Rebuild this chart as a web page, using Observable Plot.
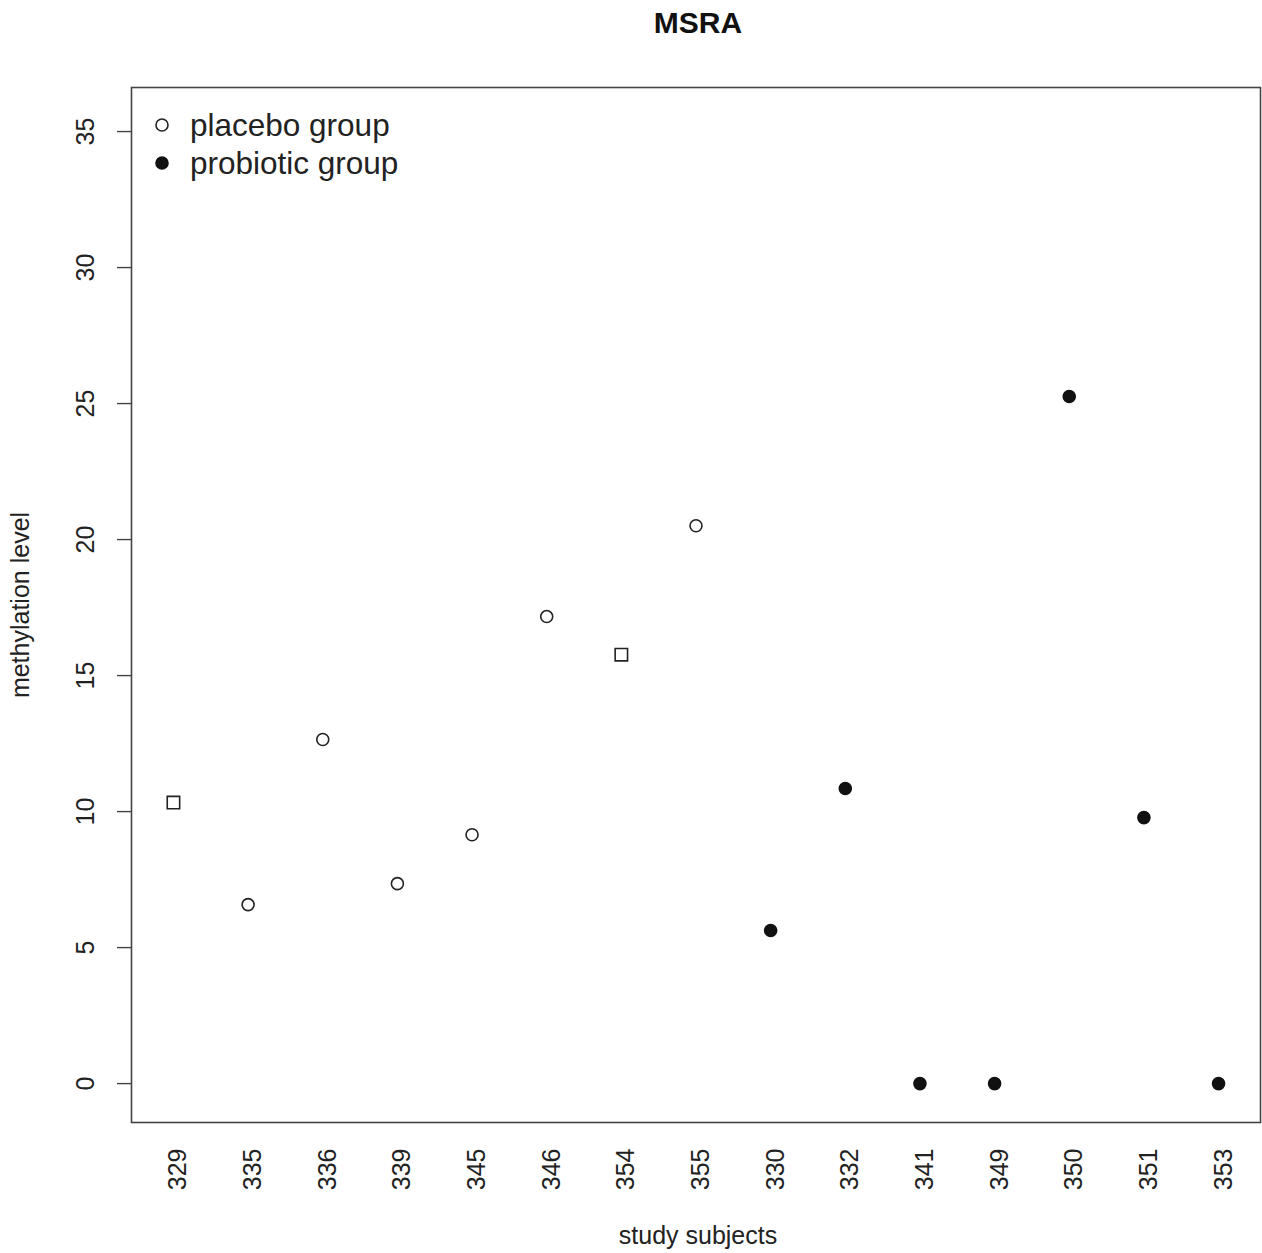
<!DOCTYPE html>
<html><head><meta charset="utf-8">
<script src="https://cdn.jsdelivr.net/npm/d3@7"></script>
<script src="https://cdn.jsdelivr.net/npm/@observablehq/plot@0.6"></script>
<style>
body{margin:0;background:#fff;font-family:"Liberation Sans",Arial,sans-serif;}
#wrap{position:relative;width:1262px;height:1253px;}
#legend{position:absolute;left:150px;top:106px;font-size:31.5px;color:#222;}
#legend .row{display:flex;align-items:center;height:38px;}
#legend svg{width:24px;height:24px;margin-right:16px;}
</style></head><body>
<div id="wrap"><div id="chart"></div><div id="legend"></div></div>
<script>
const title = "MSRA";
const xLabel = "study subjects";
const yLabel = "methylation level";
const subjects = ["329","335","336","339","345","346","354","355","330","332","341","349","350","351","353"];
const values   = [10.33, 6.58, 12.65, 7.35, 9.15, 17.17, 15.77, 20.51, 5.63, 10.85, 0, 0, 25.26, 9.78, 0];
const groups   = ["placebo","placebo","placebo","placebo","placebo","placebo","placebo","placebo",
                  "probiotic","probiotic","probiotic","probiotic","probiotic","probiotic","probiotic"];
const shapes   = ["square","circle","circle","circle","circle","circle","square","circle",
                  "circle","circle","circle","circle","circle","circle","circle"];
const yTicks = [0, 5, 10, 15, 20, 25, 30, 35];
const legendLabels = ["placebo group", "probiotic group"];
const legendGroups = ["placebo", "probiotic"];

const data = subjects.map((s, i) => ({subject: s, value: values[i], group: groups[i], shape: shapes[i]}));
const fillOf = g => g === "placebo" ? "white" : "#111";
const ink = "#222";

const chart = Plot.plot({
  width: 1262, height: 1253,
  marginTop: 87, marginBottom: 131, marginLeft: 131, marginRight: 2,
  style: {fontFamily: "'Liberation Sans', Arial, sans-serif", background: "white", color: ink},
  x: {type: "point", domain: subjects, padding: 0.562, round: false, axis: null},
  y: {domain: [-1.43, 36.62], axis: null},
  marks: [
    Plot.frame({stroke: "#444", strokeWidth: 1.6}),
    Plot.axisY({ticks: yTicks, tickSize: 14, tickFormat: () => "", label: null, stroke: "#444", strokeWidth: 1.4}),
    Plot.text(yTicks, {y: d => d, text: d => String(d), frameAnchor: "left", dx: -46, rotate: -90,
      textAnchor: "middle", lineAnchor: "middle", fontSize: 25, fill: ink}),
    Plot.text(subjects, {x: d => d, text: d => d, frameAnchor: "bottom", dy: 26, dx: 5, rotate: -90,
      textAnchor: "end", lineAnchor: "middle", fontSize: 25, fill: ink}),
    Plot.text([yLabel], {text: d => d, frameAnchor: "left", dx: -111, rotate: -90,
      textAnchor: "middle", lineAnchor: "middle", fontSize: 25, fill: ink}),
    Plot.text([xLabel], {text: d => d, frameAnchor: "bottom", dy: 113, dx: 2,
      textAnchor: "middle", lineAnchor: "middle", fontSize: 25, fill: ink}),
    Plot.text([title], {text: d => d, frameAnchor: "top", dy: -64, dx: 2,
      textAnchor: "middle", lineAnchor: "middle", fontSize: 30, fontWeight: "bold", fill: "#111"}),
    Plot.dot(data.filter(d => d.shape === "square"), {x: "subject", y: "value", symbol: "square", r: 7,
      stroke: ink, strokeWidth: 1.6, fill: d => fillOf(d.group)}),
    Plot.dot(data.filter(d => d.shape === "circle"), {x: "subject", y: "value", symbol: "circle", r: 6,
      stroke: d => d.group === "placebo" ? ink : "#111", strokeWidth: 1.6, fill: d => fillOf(d.group)})
  ]
});
document.getElementById("chart").appendChild(chart);

const legend = d3.select("#legend");
legendLabels.forEach((lab, i) => {
  const row = legend.append("div").attr("class", "row");
  const svg = row.append("svg").attr("viewBox", "0 0 24 24");
  svg.append("circle").attr("cx", 12).attr("cy", 12).attr("r", 6)
    .attr("fill", fillOf(legendGroups[i])).attr("stroke", legendGroups[i] === "placebo" ? ink : "#111")
    .attr("stroke-width", 1.6);
  row.append("span").text(lab);
});
</script>
</body></html>
